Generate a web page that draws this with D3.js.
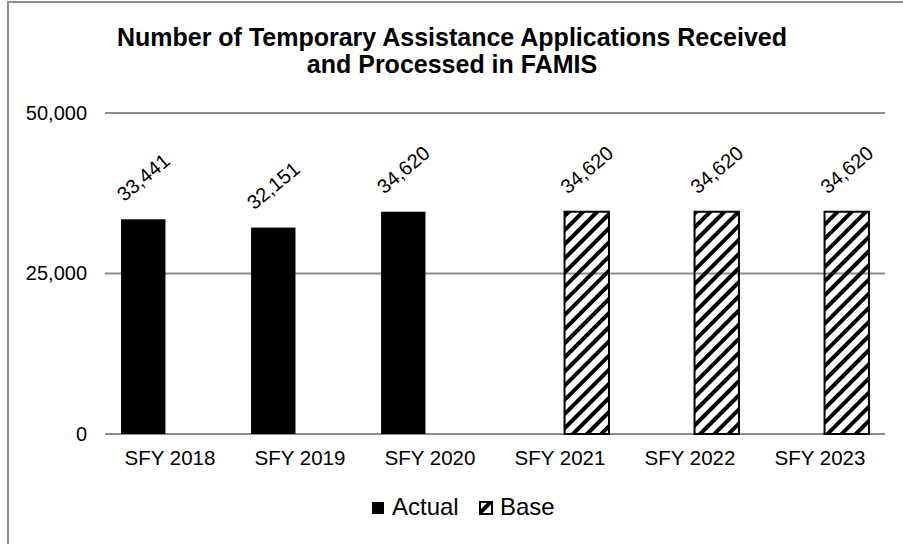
<!DOCTYPE html>
<html>
<head>
<meta charset="utf-8">
<script src="https://cdn.jsdelivr.net/npm/d3@7"></script>
<style>
  body { margin: 0; background: #fff; }
  svg { display: block; font-family: "Liberation Sans", Arial, sans-serif; }
</style>
</head>
<body>
<svg id="svg" width="903" height="544"></svg>
<script>
// chart data
const categories = ["SFY 2018", "SFY 2019", "SFY 2020", "SFY 2021", "SFY 2022", "SFY 2023"];
const actualValues = [33441, 32151, 34620, null, null, null];
const baseValues = [null, null, null, 34620, 34620, 34620];
const seriesNames = ["Actual", "Base"];
const yTicks = [0, 25000, 50000];
const titleLines = ["Number of Temporary Assistance Applications Received", "and Processed in FAMIS"];

let svg = d3.select("#svg");
const width = 903;
const height = 544;

// hatch pattern for the Base series
let defs = svg.append("defs");
defs.append("pattern")
    .attr("id", "hatch")
    .attr("patternUnits", "userSpaceOnUse")
    .attr("width", 10)
    .attr("height", 10)
    .attr("patternTransform", "rotate(45)")
    .append("rect")
    .attr("width", 4)
    .attr("height", 10)
    .attr("fill", "#000");

// outer chart border
svg.append("rect")
    .attr("x", 8)
    .attr("y", 2)
    .attr("width", 920)
    .attr("height", 560)
    .attr("fill", "none")
    .attr("stroke", "#8c8c8c")
    .attr("stroke-width", 2);

const plot = { left: 105, right: 885, top: 113, bottom: 434 };

let xScale = d3.scaleBand()
    .domain(categories)
    .range([plot.left, plot.right]);

let xInner = d3.scaleBand()
    .domain(seriesNames)
    .range([0, xScale.bandwidth()])
    .paddingInner(0.17)
    .paddingOuter(0.3);

let yScale = d3.scaleLinear()
    .domain([0, 50000])
    .range([plot.bottom, plot.top]);

// gridlines
svg.append("g")
    .selectAll("line")
    .data(yTicks)
    .enter().append("line")
    .attr("x1", plot.left)
    .attr("x2", plot.right)
    .attr("y1", d => yScale(d))
    .attr("y2", d => yScale(d))
    .attr("stroke", "#8c8c8c")
    .attr("stroke-width", 2);

// y axis labels
let yAxis = svg.append("g")
    .attr("transform", "translate(" + (plot.left - 18) + ",0)")
    .call(d3.axisLeft(yScale).tickValues(yTicks).tickFormat(d3.format(",")).tickSize(0).tickPadding(0));
yAxis.select(".domain").remove();
yAxis.selectAll("text")
    .style("font-size", "20px")
    .attr("fill", "#000");

// x axis labels
let xAxis = svg.append("g")
    .attr("transform", "translate(0," + plot.bottom + ")")
    .call(d3.axisBottom(xScale).tickSize(0).tickPadding(16));
xAxis.select(".domain").remove();
xAxis.selectAll("text")
    .style("font-size", "20.5px")
    .attr("fill", "#000");

// build bar records
let bars = [];
categories.forEach((c, i) => {
    if (actualValues[i] != null) bars.push({ cat: c, series: "Actual", value: actualValues[i] });
    if (baseValues[i] != null) bars.push({ cat: c, series: "Base", value: baseValues[i] });
});

svg.append("g")
    .selectAll("rect")
    .data(bars)
    .enter().append("rect")
    .attr("x", d => xScale(d.cat) + xInner(d.series))
    .attr("y", d => yScale(d.value))
    .attr("width", xInner.bandwidth())
    .attr("height", d => plot.bottom - yScale(d.value))
    .attr("fill", d => d.series === "Actual" ? "#000" : "url(#hatch)")
    .attr("stroke", d => d.series === "Actual" ? "none" : "#000")
    .attr("stroke-width", 2);

// rotated value labels
svg.append("g")
    .selectAll("text")
    .data(bars)
    .enter().append("text")
    .attr("transform", d => {
        let cx = xScale(d.cat) + xInner(d.series) + xInner.bandwidth() / 2;
        let cy = yScale(d.value) - 42;
        return "translate(" + cx + "," + cy + ") rotate(-40)";
    })
    .attr("text-anchor", "middle")
    .attr("dy", "0.35em")
    .style("font-size", "20px")
    .text(d => d3.format(",")(d.value));

// title
svg.append("text")
    .attr("x", 452)
    .attr("y", 46)
    .attr("text-anchor", "middle")
    .style("font-size", "25px")
    .style("font-weight", "bold")
    .selectAll("tspan")
    .data(titleLines)
    .enter().append("tspan")
    .attr("x", 452)
    .attr("dy", (d, i) => i === 0 ? 0 : 27)
    .text(d => d);

// legend
let legend = svg.append("g");
const legendItems = [
    { name: "Actual", x: 372 },
    { name: "Base", x: 480 }
];
legend.selectAll("rect")
    .data(legendItems)
    .enter().append("rect")
    .attr("x", d => d.x)
    .attr("y", 502)
    .attr("width", 12)
    .attr("height", 12)
    .attr("fill", d => d.name === "Actual" ? "#000" : "url(#hatch)")
    .attr("stroke", d => d.name === "Actual" ? "none" : "#000")
    .attr("stroke-width", 2);
legend.selectAll("text")
    .data(legendItems)
    .enter().append("text")
    .attr("x", d => d.x + 20)
    .attr("y", 515)
    .style("font-size", "24px")
    .text(d => d.name);
</script>
</body>
</html>
